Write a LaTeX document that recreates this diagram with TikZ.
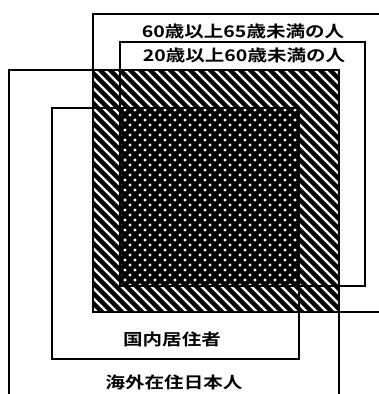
\documentclass[tikz,border=0pt]{standalone}
\usepackage{graphicx}
\usepackage{fontspec}
\newfontfamily\jpfont{Noto Sans CJK JP}[BoldFont=* Bold]
\begin{document}
\begin{tikzpicture}[x=1pt,y=-1pt,
  frame/.style={line width=1.6pt,line cap=rect},
  hatchline/.style={line width=4.3pt,black},
  lbl/.style={font=\jpfont\bfseries\fontsize{16}{16}\selectfont,inner sep=0pt}]
\useasboundingbox (0,0) rectangle (379,394);
\fill[white] (0,0) rectangle (379,394);
% hatched area (intersection of the two outer frames)
\begin{scope}
  \clip (93,70) rectangle (339,312);
  \fill[white] (93,70) rectangle (339,312);
  \foreach \c in {-240,-230,...,280} {
    \draw[hatchline] (\c+50,50) -- (\c+340,340);
  }
\end{scope}
% cross-hatched area (intersection of the two inner frames)
\begin{scope}
  \clip (120,108) rectangle (299,286);
  \foreach \c in {150,160,...,680} {
    \draw[hatchline] (\c-50,50) -- (\c-340,340);
  }
\end{scope}
% 60-65 frame (open to the right)
\draw[frame] (381,14) -- (93,14) -- (93,312) -- (381,312);
% 20-60 frame
\draw[frame] (120,42) rectangle (365,286);
% overseas frame (open to the bottom)
\draw[frame] (9,396) -- (9,70) -- (339,70) -- (339,396);
% domestic frame
\draw[frame] (52,108) rectangle (299,359);
% labels
\node[lbl] (age6065) at (243,31) {\scalebox{1.22}[1]{60歳以上65歳未満の人}};
\node[lbl] (age2060) at (244,55) {\scalebox{1.22}[1]{20歳以上60歳未満の人}};
\node[lbl] (domestic) at (172,339) {\scalebox{1.22}[1]{国内居住者}};
\node[lbl] (overseas) at (174,382) {\scalebox{1.22}[1]{海外在住日本人}};
\end{tikzpicture}
\end{document}
